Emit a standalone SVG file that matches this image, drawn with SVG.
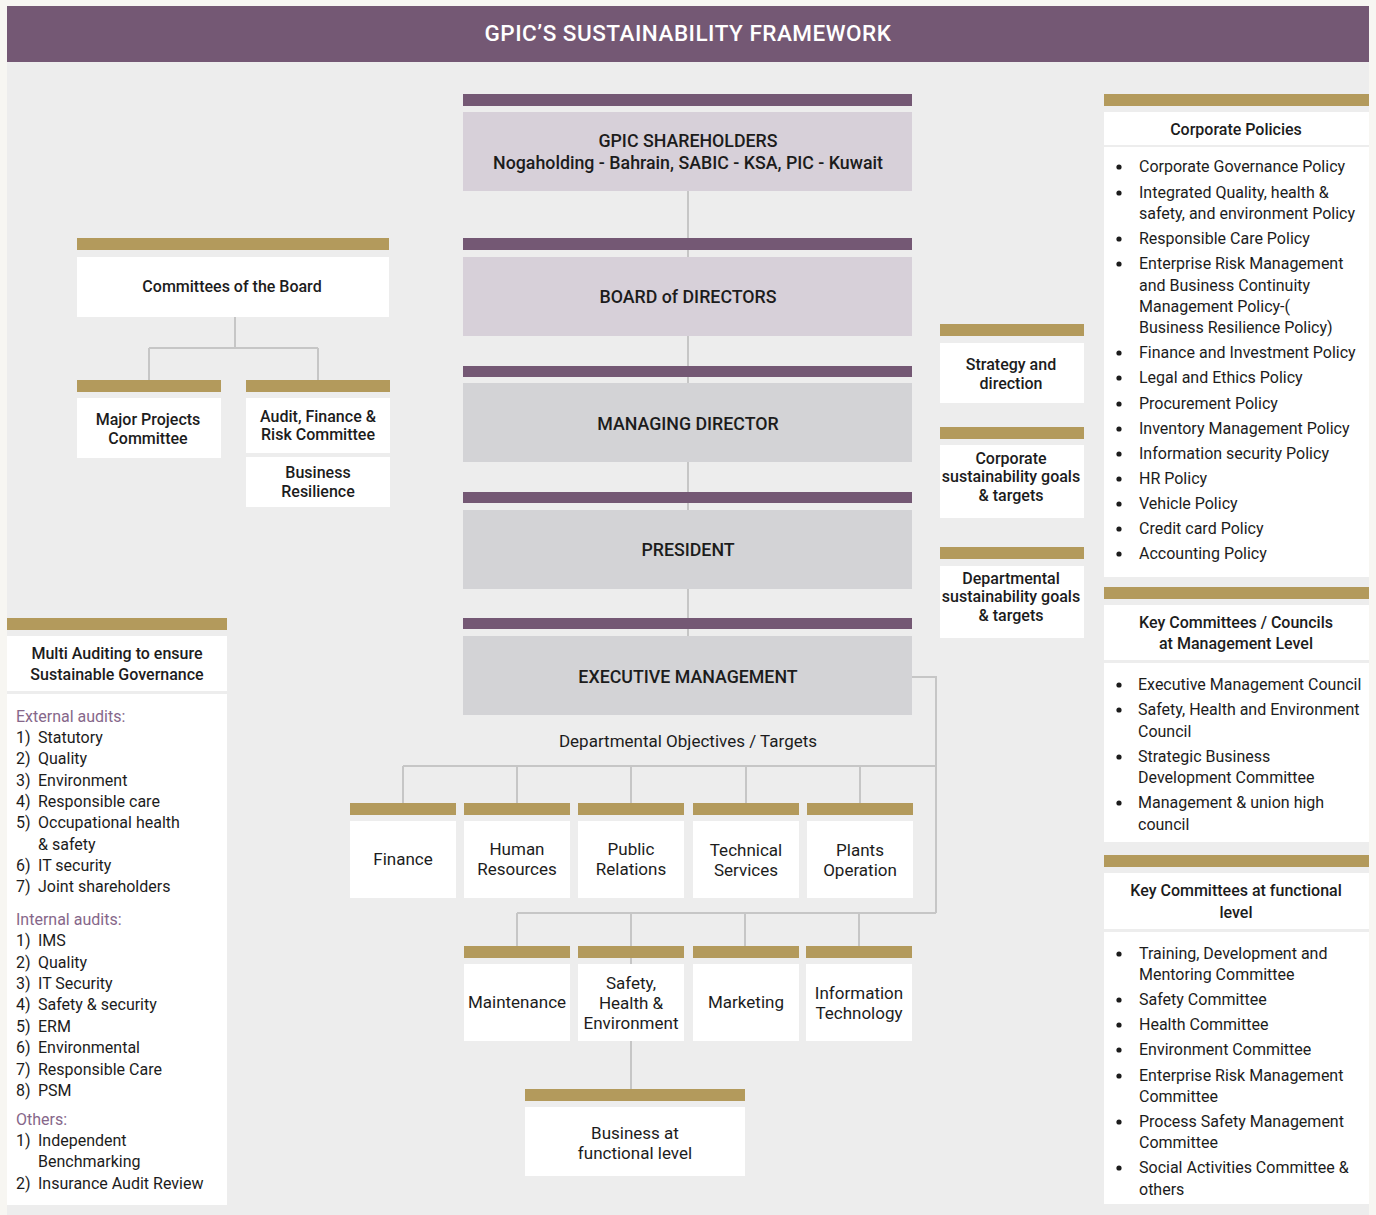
<svg xmlns="http://www.w3.org/2000/svg" width="1376" height="1215" viewBox="0 0 1376 1215">
<style>
.gold{fill:#b39a5c}
.pur{fill:#745874}
.w{fill:#ffffff}
.m{fill:#d7d0d9}
.g{fill:#d3d3d6}
text{font-family:Roboto,"Liberation Sans",sans-serif;fill:#1c1c1c}
.h{font-weight:500;font-size:16px;text-anchor:middle}
.hc{font-weight:500;font-size:17.8px;text-anchor:middle}
.c{font-size:17px;text-anchor:middle}
.li{font-size:16px}
.sec{fill:#86678a;font-size:16px}
.conn{stroke:#c6c6c6;stroke-width:2;fill:none}
.b{fill:#1c1c1c}
</style>
<defs>
<circle id="bul" r="2.6" class="b"/>
</defs>
<rect x="0" y="0" width="1376" height="1215" fill="#f7f6f2"/>
<rect x="7" y="62" width="1362" height="1153" fill="#ededed"/>
<g id="title">
<rect x="7" y="6" width="1362" height="56" class="pur"/>
<text x="688" y="41" text-anchor="middle" font-size="22.5" font-weight="500" letter-spacing="0.5" style="fill:#ffffff">GPIC’S SUSTAINABILITY FRAMEWORK</text>
</g>
<g id="connectors">
<path class="conn" d="M688 191V636"/>
<path class="conn" d="M235 317V348M149 348H318M149 348V380M318 348V380"/>
<path class="conn" d="M912 677H936V913"/>
<path class="conn" d="M403 766H936M403 766V803M517 766V803M631 766V803M746 766V803M860 766V803"/>
<path class="conn" d="M517 913H936M517 913V946M631 913V964M745 913V946M859 913V946"/>
<path class="conn" d="M631 1041V1089"/>
</g>
<g id="shareholders">
<rect x="463" y="94" width="449" height="12" class="pur"/>
<rect x="463" y="112" width="449" height="79" class="m"/>
<text x="688" y="147" class="hc">GPIC SHAREHOLDERS</text>
<text x="688" y="169" class="hc">Nogaholding - Bahrain, SABIC - KSA, PIC - Kuwait</text>
</g>
<g id="board">
<rect x="463" y="238" width="449" height="12" class="pur"/>
<rect x="463" y="257" width="449" height="79" class="m"/>
<text x="688" y="303" class="hc">BOARD of DIRECTORS</text>
</g>
<g id="md">
<rect x="463" y="366" width="449" height="11" class="pur"/>
<rect x="463" y="383" width="449" height="79" class="g"/>
<text x="688" y="430" class="hc">MANAGING DIRECTOR</text>
</g>
<g id="president">
<rect x="463" y="492" width="449" height="11" class="pur"/>
<rect x="463" y="510" width="449" height="79" class="g"/>
<text x="688" y="556" class="hc">PRESIDENT</text>
</g>
<g id="exec">
<rect x="463" y="618" width="449" height="11" class="pur"/>
<rect x="463" y="636" width="449" height="79" class="g"/>
<text x="688" y="683" class="hc">EXECUTIVE MANAGEMENT</text>
</g>
<text id="dept-label" x="688" y="747" class="c">Departmental Objectives / Targets</text>
<g id="committees-board">
<rect x="77" y="238" width="312" height="12" class="gold"/>
<rect x="77" y="257" width="312" height="60" class="w"/>
<text x="232" y="292" class="h">Committees of the Board</text>
</g>
<g id="major-projects">
<rect x="77" y="380" width="144" height="12" class="gold"/>
<rect x="77" y="398" width="144" height="60" class="w"/>
<text x="148" y="425" class="h">Major Projects</text>
<text x="148" y="444" class="h">Committee</text>
</g>
<g id="audit-finance">
<rect x="246" y="380" width="144" height="12" class="gold"/>
<rect x="246" y="398" width="144" height="55" class="w"/>
<text x="318" y="422" class="h">Audit, Finance &amp;</text>
<text x="318" y="440" class="h">Risk Committee</text>
</g>
<g id="business-resilience">
<rect x="246" y="457" width="144" height="50" class="w"/>
<text x="318" y="478" class="h">Business</text>
<text x="318" y="497" class="h">Resilience</text>
</g>
<g id="strategy">
<rect x="940" y="324" width="144" height="12" class="gold"/>
<rect x="940" y="343" width="144" height="60" class="w"/>
<text x="1011" y="370" class="h">Strategy and</text>
<text x="1011" y="389" class="h">direction</text>
</g>
<g id="corp-goals">
<rect x="940" y="427" width="144" height="12" class="gold"/>
<rect x="940" y="445" width="144" height="73" class="w"/>
<text x="1011" y="464" class="h">Corporate</text>
<text x="1011" y="482" class="h">sustainability goals</text>
<text x="1011" y="501" class="h">&amp; targets</text>
</g>
<g id="dept-goals">
<rect x="940" y="547" width="144" height="12" class="gold"/>
<rect x="940" y="566" width="144" height="72" class="w"/>
<text x="1011" y="584" class="h">Departmental</text>
<text x="1011" y="602" class="h">sustainability goals</text>
<text x="1011" y="621" class="h">&amp; targets</text>
</g>
<g id="finance">
<rect x="350" y="803" width="106" height="12" class="gold"/>
<rect x="350" y="821" width="106" height="77" class="w"/>
<text x="403" y="865" class="c">Finance</text>
</g>
<g id="hr">
<rect x="464" y="803" width="106" height="12" class="gold"/>
<rect x="464" y="821" width="106" height="77" class="w"/>
<text x="517" y="855" class="c">Human</text>
<text x="517" y="875" class="c">Resources</text>
</g>
<g id="pr">
<rect x="578" y="803" width="106" height="12" class="gold"/>
<rect x="578" y="821" width="106" height="77" class="w"/>
<text x="631" y="855" class="c">Public</text>
<text x="631" y="875" class="c">Relations</text>
</g>
<g id="technical">
<rect x="693" y="803" width="106" height="12" class="gold"/>
<rect x="693" y="821" width="106" height="77" class="w"/>
<text x="746" y="856" class="c">Technical</text>
<text x="746" y="876" class="c">Services</text>
</g>
<g id="plants">
<rect x="807" y="803" width="106" height="12" class="gold"/>
<rect x="807" y="821" width="106" height="77" class="w"/>
<text x="860" y="856" class="c">Plants</text>
<text x="860" y="876" class="c">Operation</text>
</g>
<g id="maintenance">
<rect x="464" y="946" width="106" height="12" class="gold"/>
<rect x="464" y="964" width="106" height="77" class="w"/>
<text x="517" y="1008" class="c">Maintenance</text>
</g>
<g id="she">
<rect x="578" y="946" width="106" height="12" class="gold"/>
<rect x="578" y="964" width="106" height="77" class="w"/>
<text x="631" y="989" class="c">Safety,</text>
<text x="631" y="1009" class="c">Health &amp;</text>
<text x="631" y="1029" class="c">Environment</text>
</g>
<g id="marketing">
<rect x="693" y="946" width="106" height="12" class="gold"/>
<rect x="693" y="964" width="106" height="77" class="w"/>
<text x="746" y="1008" class="c">Marketing</text>
</g>
<g id="it">
<rect x="806" y="946" width="106" height="12" class="gold"/>
<rect x="806" y="964" width="106" height="77" class="w"/>
<text x="859" y="999" class="c">Information</text>
<text x="859" y="1019" class="c">Technology</text>
</g>
<g id="business-functional">
<rect x="525" y="1089" width="220" height="12" class="gold"/>
<rect x="525" y="1107" width="220" height="69" class="w"/>
<text x="635" y="1139" class="c">Business at</text>
<text x="635" y="1159" class="c">functional level</text>
</g>
<g id="corporate-policies">
<rect x="1104" y="94" width="265" height="12" class="gold"/>
<rect x="1104" y="112" width="265" height="33" class="w"/>
<text x="1236" y="135" class="h">Corporate Policies</text>
<rect x="1104" y="147" width="265" height="430" class="w"/>
<use href="#bul" x="1119" y="167"/><use href="#bul" x="1119" y="193"/><use href="#bul" x="1119" y="239"/><use href="#bul" x="1119" y="264"/><use href="#bul" x="1119" y="353"/><use href="#bul" x="1119" y="378"/><use href="#bul" x="1119" y="404"/><use href="#bul" x="1119" y="429"/><use href="#bul" x="1119" y="454"/><use href="#bul" x="1119" y="479"/><use href="#bul" x="1119" y="504"/><use href="#bul" x="1119" y="529"/><use href="#bul" x="1119" y="554"/>
<g class="li">
<text x="1139" y="172">Corporate Governance Policy</text>
<text x="1139" y="198">Integrated Quality, health &amp;</text>
<text x="1139" y="219">safety, and environment Policy</text>
<text x="1139" y="244">Responsible Care Policy</text>
<text x="1139" y="269">Enterprise Risk Management</text>
<text x="1139" y="291">and Business Continuity</text>
<text x="1139" y="312">Management Policy-(</text>
<text x="1139" y="333">Business Resilience Policy)</text>
<text x="1139" y="358">Finance and Investment Policy</text>
<text x="1139" y="383">Legal and Ethics Policy</text>
<text x="1139" y="409">Procurement Policy</text>
<text x="1139" y="434">Inventory Management Policy</text>
<text x="1139" y="459">Information security Policy</text>
<text x="1139" y="484">HR Policy</text>
<text x="1139" y="509">Vehicle Policy</text>
<text x="1139" y="534">Credit card Policy</text>
<text x="1139" y="559">Accounting Policy</text>
</g>
</g>
<g id="key-management">
<rect x="1104" y="587" width="265" height="12" class="gold"/>
<rect x="1104" y="605" width="265" height="55" class="w"/>
<text x="1236" y="628" class="h">Key Committees / Councils</text>
<text x="1236" y="649" class="h">at Management Level</text>
<rect x="1104" y="663" width="265" height="179" class="w"/>
<use href="#bul" x="1119" y="685"/><use href="#bul" x="1119" y="710"/><use href="#bul" x="1119" y="757"/><use href="#bul" x="1119" y="803"/>
<g class="li">
<text x="1138" y="690">Executive Management Council</text>
<text x="1138" y="715">Safety, Health and Environment</text>
<text x="1138" y="737">Council</text>
<text x="1138" y="762">Strategic Business</text>
<text x="1138" y="783">Development Committee</text>
<text x="1138" y="808">Management &amp; union high</text>
<text x="1138" y="830">council</text>
</g>
</g>
<g id="key-functional">
<rect x="1104" y="855" width="265" height="12" class="gold"/>
<rect x="1104" y="873" width="265" height="56" class="w"/>
<text x="1236" y="896" class="h">Key Committees at functional</text>
<text x="1236" y="918" class="h">level</text>
<rect x="1104" y="932" width="265" height="272" class="w"/>
<use href="#bul" x="1119" y="954"/><use href="#bul" x="1119" y="1000"/><use href="#bul" x="1119" y="1025"/><use href="#bul" x="1119" y="1050"/><use href="#bul" x="1119" y="1076"/><use href="#bul" x="1119" y="1122"/><use href="#bul" x="1119" y="1168"/>
<g class="li">
<text x="1139" y="959">Training, Development and</text>
<text x="1139" y="980">Mentoring Committee</text>
<text x="1139" y="1005">Safety Committee</text>
<text x="1139" y="1030">Health Committee</text>
<text x="1139" y="1055">Environment Committee</text>
<text x="1139" y="1081">Enterprise Risk Management</text>
<text x="1139" y="1102">Committee</text>
<text x="1139" y="1127">Process Safety Management</text>
<text x="1139" y="1148">Committee</text>
<text x="1139" y="1173">Social Activities Committee &amp;</text>
<text x="1139" y="1195">others</text>
</g>
</g>
<g id="multi-auditing">
<rect x="7" y="618" width="220" height="12" class="gold"/>
<rect x="7" y="636" width="220" height="55" class="w"/>
<text x="117" y="659" class="h">Multi Auditing to ensure</text>
<text x="117" y="680" class="h">Sustainable Governance</text>
<rect x="7" y="694" width="220" height="511" class="w"/>
<text x="16" y="722" class="sec">External audits:</text>
<g class="li">
<text x="16" y="743">1)</text><text x="38" y="743">Statutory</text>
<text x="16" y="764">2)</text><text x="38" y="764">Quality</text>
<text x="16" y="786">3)</text><text x="38" y="786">Environment</text>
<text x="16" y="807">4)</text><text x="38" y="807">Responsible care</text>
<text x="16" y="828">5)</text><text x="38" y="828">Occupational health</text>
<text x="38" y="850">&amp; safety</text>
<text x="16" y="871">6)</text><text x="38" y="871">IT security</text>
<text x="16" y="892">7)</text><text x="38" y="892">Joint shareholders</text>
</g>
<text x="16" y="925" class="sec">Internal audits:</text>
<g class="li">
<text x="16" y="946">1)</text><text x="38" y="946">IMS</text>
<text x="16" y="968">2)</text><text x="38" y="968">Quality</text>
<text x="16" y="989">3)</text><text x="38" y="989">IT Security</text>
<text x="16" y="1010">4)</text><text x="38" y="1010">Safety &amp; security</text>
<text x="16" y="1032">5)</text><text x="38" y="1032">ERM</text>
<text x="16" y="1053">6)</text><text x="38" y="1053">Environmental</text>
<text x="16" y="1075">7)</text><text x="38" y="1075">Responsible Care</text>
<text x="16" y="1096">8)</text><text x="38" y="1096">PSM</text>
</g>
<text x="16" y="1125" class="sec">Others:</text>
<g class="li">
<text x="16" y="1146">1)</text><text x="38" y="1146">Independent</text>
<text x="38" y="1167">Benchmarking</text>
<text x="16" y="1189">2)</text><text x="38" y="1189">Insurance Audit Review</text>
</g>
</g>
</svg>
